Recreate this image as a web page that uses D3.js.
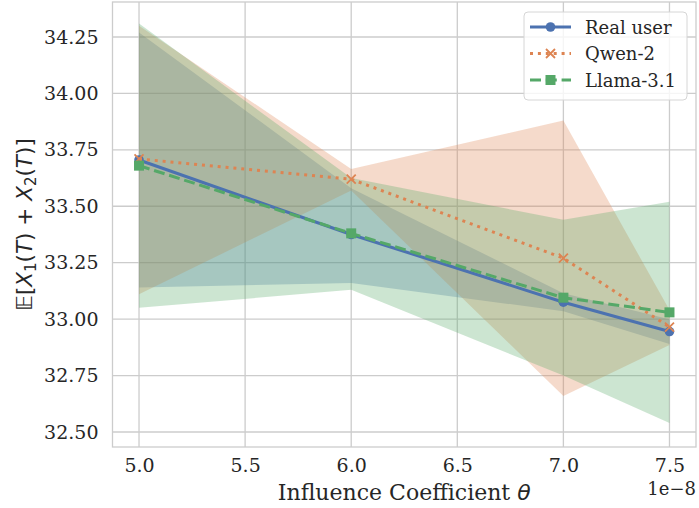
<!DOCTYPE html>
<html>
<head>
<meta charset="utf-8">
<script src="https://cdnjs.cloudflare.com/ajax/libs/d3/7.8.5/d3.min.js"></script>
<style>
body { margin: 0; background: #fff; }
</style>
</head>
<body>
<svg width="699" height="508" font-family="DejaVu Serif" fill="#262626"></svg>
<script>
// influence coefficient (x 1e-8)
var thetas = [5.0, 6.0, 7.0, 7.5];

var realMean = [33.705, 33.375, 33.075, 32.945];
var realLow = [33.14, 33.16, 33.035, 32.89];
var realHigh = [34.27, 33.58, 33.115, 33.00];

var qwenMean = [33.71, 33.62, 33.27, 32.965];
var qwenLow = [33.11, 33.57, 32.66, 32.885];
var qwenHigh = [34.30, 33.665, 33.88, 33.04];

var llamaMean = [33.68, 33.38, 33.095, 33.03];
var llamaLow = [33.05, 33.13, 32.75, 32.54];
var llamaHigh = [34.31, 33.625, 33.44, 33.52];

var xTicks = [5.0, 5.5, 6.0, 6.5, 7.0, 7.5];
var yTicks = [32.50, 32.75, 33.00, 33.25, 33.50, 33.75, 34.00, 34.25];

var series = [
	{ name: "Real user", color: "#4c72b0", mean: realMean, low: realLow, high: realHigh, dash: null, marker: "circle" },
	{ name: "Qwen-2", color: "#dd8452", mean: qwenMean, low: qwenLow, high: qwenHigh, dash: "3,4.9", marker: "x" },
	{ name: "Llama-3.1", color: "#55a868", mean: llamaMean, low: llamaLow, high: llamaHigh, dash: "11,4.8", marker: "square" }
];

var svg = d3.select("svg"),
	pLeft = 112.5, pRight = 696, pTop = 2, pBottom = 447;

var x = d3.scaleLinear().domain([4.875, 7.625]).range([pLeft, pRight]);
var y = d3.scaleLinear().domain([32.4335, 34.405]).range([pBottom, pTop]);

// grid
var grid = svg.append("g");
grid.selectAll("line.gx")
	.data(xTicks)
	.enter().append("line")
	.attr("x1", function(d) { return x(d); })
	.attr("x2", function(d) { return x(d); })
	.attr("y1", pTop).attr("y2", pBottom)
	.attr("stroke", "#cccccc").attr("stroke-width", 1.3);
grid.selectAll("line.gy")
	.data(yTicks)
	.enter().append("line")
	.attr("y1", function(d) { return y(d); })
	.attr("y2", function(d) { return y(d); })
	.attr("x1", pLeft).attr("x2", pRight)
	.attr("stroke", "#cccccc").attr("stroke-width", 1.3);

// tick labels via d3 axes, no tick marks
var xAxis = svg.append("g")
	.attr("transform", "translate(0," + pBottom + ")")
	.call(d3.axisBottom(x).tickValues(xTicks).tickFormat(d3.format(".1f")).tickSize(0).tickPadding(12));
var yAxis = svg.append("g")
	.attr("transform", "translate(" + pLeft + ",0)")
	.call(d3.axisLeft(y).tickValues(yTicks).tickFormat(d3.format(".2f")).tickSize(0).tickPadding(14));
[xAxis, yAxis].forEach(function(a) {
	a.select(".domain").remove();
	a.attr("font-family", "DejaVu Serif").attr("font-size", 19);
	a.selectAll("text").attr("fill", "#262626");
});

// bands
var area = d3.area()
	.x(function(d, i) { return x(thetas[i]); })
	.y0(function(d) { return y(d[0]); })
	.y1(function(d) { return y(d[1]); });

series.forEach(function(s) {
	var pts = s.low.map(function(v, i) { return [v, s.high[i]]; });
	svg.append("path")
		.attr("d", area(pts))
		.attr("fill", s.color)
		.attr("fill-opacity", 0.3);
});

// lines
var line = d3.line()
	.x(function(d, i) { return x(thetas[i]); })
	.y(function(d) { return y(d); });

function draw_marker(g, type, cx, cy, color) {
	if (type == "circle") {
		g.append("circle").attr("cx", cx).attr("cy", cy).attr("r", 4.8).attr("fill", color);
	} else if (type == "square") {
		g.append("rect").attr("x", cx - 5).attr("y", cy - 5).attr("width", 10).attr("height", 10).attr("fill", color);
	} else {
		g.append("path")
			.attr("d", "M" + (cx - 4.5) + "," + (cy - 4.5) + "L" + (cx + 4.5) + "," + (cy + 4.5)
				+ "M" + (cx - 4.5) + "," + (cy + 4.5) + "L" + (cx + 4.5) + "," + (cy - 4.5))
			.attr("stroke", color).attr("stroke-width", 1.8).attr("fill", "none");
	}
}

series.forEach(function(s) {
	var g = svg.append("g");
	g.append("path")
		.attr("d", line(s.mean))
		.attr("fill", "none")
		.attr("stroke", s.color)
		.attr("stroke-width", 3)
		.attr("stroke-dasharray", s.dash);
	s.mean.forEach(function(v, i) {
		draw_marker(g, s.marker, x(thetas[i]), y(v), s.color);
	});
});

// frame
svg.append("rect")
	.attr("x", pLeft).attr("y", pTop)
	.attr("width", pRight - pLeft).attr("height", pBottom - pTop)
	.attr("fill", "none").attr("stroke", "#cccccc").attr("stroke-width", 1.3);

// legend
var lg = svg.append("g").attr("transform", "translate(524,12)");
lg.append("rect")
	.attr("width", 163).attr("height", 88).attr("rx", 4)
	.attr("fill", "#ffffff").attr("fill-opacity", 0.8)
	.attr("stroke", "#d6d6d6").attr("stroke-width", 1);
series.forEach(function(s, i) {
	var ly = 15 + i * 26.5;
	lg.append("line")
		.attr("x1", 6).attr("x2", 47).attr("y1", ly).attr("y2", ly)
		.attr("stroke", s.color).attr("stroke-width", 3)
		.attr("stroke-dasharray", s.dash);
	draw_marker(lg, s.marker, 26.5, ly, s.color);
	lg.append("text")
		.attr("x", 61).attr("y", ly + 6.5)
		.attr("font-size", 18)
		.attr("fill", "#262626")
		.text(s.name);
});

// axis titles (math parts in DejaVu Sans like mathtext)
var xl = svg.append("text")
	.attr("x", (pLeft + pRight) / 2).attr("y", 500)
	.attr("text-anchor", "middle")
	.attr("font-size", 22);
xl.append("tspan").text("Influence Coefficient ");
xl.append("tspan").attr("font-family", "DejaVu Sans").attr("font-style", "italic").text("θ");

svg.append("text")
	.attr("x", pRight).attr("y", 495)
	.attr("text-anchor", "end")
	.attr("font-size", 18)
	.text("1e\u22128");

var yl = svg.append("text")
	.attr("transform", "translate(32," + ((pTop + pBottom) / 2) + ") rotate(-90)")
	.attr("text-anchor", "middle")
	.attr("font-family", "DejaVu Sans")
	.attr("font-size", 21.5);
yl.append("tspan").text("\uD835\uDD3C[");
yl.append("tspan").attr("font-style", "italic").text("X");
yl.append("tspan").attr("font-size", 15).attr("dy", 4).text("1");
yl.append("tspan").attr("dy", -4).text("(");
yl.append("tspan").attr("font-style", "italic").text("T");
yl.append("tspan").text(") + ");
yl.append("tspan").attr("font-style", "italic").text("X");
yl.append("tspan").attr("font-size", 15).attr("dy", 4).text("2");
yl.append("tspan").attr("dy", -4).text("(");
yl.append("tspan").attr("font-style", "italic").text("T");
yl.append("tspan").text(")]");
</script>
</body>
</html>
